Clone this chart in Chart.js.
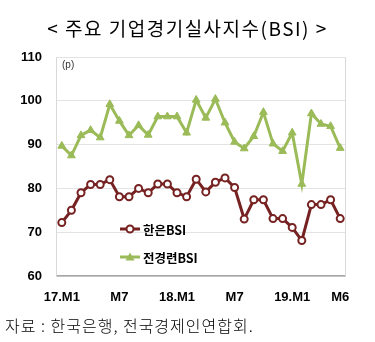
<!DOCTYPE html>
<html>
<head>
<meta charset="utf-8">
<script src="https://cdn.jsdelivr.net/npm/chart.js@4"></script>
<style>
  html, body { margin: 0; padding: 0; background: #fff; }
  .wrap { position: relative; width: 375px; height: 342px; overflow: hidden; }
  .title {
    position: absolute; left: 0; top: 15px; width: 375px; text-align: center;
    font-family: "Noto Sans CJK KR", sans-serif; font-size: 19px; color: #000;
    line-height: 26px; letter-spacing: 1.5px;
  }
  .source {
    position: absolute; left: 5px; top: 313px;
    font-family: "Noto Sans CJK KR", sans-serif; font-size: 16px; font-weight: 300; color: #000;
    line-height: 24px; letter-spacing: 1px;
  }
  .unit {
    position: absolute; left: 62px; top: 59px;
    font-family: "Liberation Sans", Arial, sans-serif; font-size: 10px; color: #333;
  }
  canvas { position: absolute; left: 0; top: 0; }
</style>
</head>
<body>
<div class="wrap">
  <canvas id="chart" width="375" height="342"></canvas>
  <div class="title">&lt; 주요 기업경기실사지수(BSI) &gt;</div>
  <div class="unit">(p)</div>
  <div class="source">자료 : 한국은행, 전국경제인연합회.</div>
</div>
<script>
// 2017.1 ~ 2019.6 monthly
const months = [
  '17.M1', '', '', '', '', '', 'M7', '', '', '', '', '',
  '18.M1', '', '', '', '', '', 'M7', '', '', '', '', '',
  '19.M1', '', '', '', '', 'M6'
];
const bokBsi = [
  72.2, 75, 79, 80.9, 80.9, 82, 78.1, 78.1, 80, 79, 81, 81,
  79, 78.1, 82.1, 79.2, 81.4, 82.4, 80.2, 73, 77.4, 77.4, 73.1, 73.1,
  71.1, 68.1, 76.3, 76.3, 77.4, 73.1
];
const fkiBsi = [
  89.7, 87.5, 92.1, 93.3, 91.6, 99.2, 95.4, 92.1, 94.4, 92.2, 96.4, 96.4,
  96.4, 92.7, 100.2, 96.1, 100.4, 95, 90.6, 89.1, 91.9, 97.4, 90.2, 88.5,
  92.7, 81, 97.1, 94.7, 94.2, 89.2
];
const seriesNames = ['한은BSI', '전경련BSI'];
const yTicks = [60, 70, 80, 90, 100, 110];

const RED = '#772222';
const GREEN = '#9BBB59';

// plot frame + legend inside the plot
const framePlugin = {
  id: 'frame',
  beforeDatasetsDraw(chart) {
    const { ctx, chartArea: a } = chart;
    ctx.save();
    ctx.strokeStyle = '#d9d9d9';
    ctx.lineWidth = 1;
    ctx.beginPath();
    ctx.moveTo(a.right + 0.5, a.top);
    ctx.lineTo(a.right + 0.5, a.bottom);
    ctx.moveTo(a.left - 0.5, a.top);
    ctx.lineTo(a.left - 0.5, a.bottom);
    ctx.stroke();
    ctx.restore();
  },
  afterDatasetsDraw(chart) {
    const { ctx, chartArea: a } = chart;
    ctx.save();
    ctx.font = 'bold 12.5px "Noto Sans CJK KR", sans-serif';
    ctx.textBaseline = 'middle';
    ctx.fillStyle = '#000';
    const x0 = a.left + 63;
    const items = [
      { y: a.top + 172, color: RED, shape: 'circle' },
      { y: a.top + 200, color: GREEN, shape: 'triangle' }
    ];
    items.forEach((it, i) => {
      ctx.strokeStyle = it.color;
      ctx.lineWidth = 3;
      ctx.beginPath();
      ctx.moveTo(x0, it.y);
      ctx.lineTo(x0 + 20, it.y);
      ctx.stroke();
      if (it.shape === 'circle') {
        ctx.beginPath();
        ctx.arc(x0 + 10, it.y, 3.5, 0, Math.PI * 2);
        ctx.fillStyle = '#fff';
        ctx.fill();
        ctx.lineWidth = 2;
        ctx.stroke();
      } else {
        ctx.beginPath();
        ctx.moveTo(x0 + 10, it.y - 4.5);
        ctx.lineTo(x0 + 14.5, it.y + 3.5);
        ctx.lineTo(x0 + 5.5, it.y + 3.5);
        ctx.closePath();
        ctx.fillStyle = it.color;
        ctx.fill();
      }
      ctx.fillStyle = '#000';
      ctx.fillText(seriesNames[i], x0 + 23, it.y + 1);
    });
    ctx.restore();
  }
};

new Chart(document.getElementById('chart'), {
  type: 'line',
  data: {
    labels: months,
    datasets: [
      {
        label: seriesNames[0],
        data: bokBsi,
        borderColor: RED,
        borderWidth: 3,
        pointStyle: 'circle',
        pointRadius: 3.5,
        pointBorderWidth: 2,
        pointBackgroundColor: '#fff',
        pointBorderColor: RED,
        tension: 0
      },
      {
        label: seriesNames[1],
        data: fkiBsi,
        borderColor: GREEN,
        borderWidth: 3,
        pointStyle: 'triangle',
        pointRadius: 4.5,
        pointBorderWidth: 1,
        pointBackgroundColor: GREEN,
        pointBorderColor: GREEN,
        tension: 0
      }
    ]
  },
  options: {
    responsive: false,
    animation: false,
    layout: { padding: { top: 57, right: 30, left: 0, bottom: 0 } },
    plugins: {
      legend: { display: false },
      tooltip: { enabled: false }
    },
    scales: {
      x: {
        offset: true,
        grid: { display: false, drawTicks: false },
        border: { color: '#a6a6a6', width: 1.5 },
        afterFit(scale) { scale.height = 66; },
        ticks: {
          autoSkip: false,
          maxRotation: 0,
          padding: 14,
          color: '#000',
          font: { family: '"Liberation Sans", Arial, sans-serif', size: 13, weight: 'bold' }
        }
      },
      y: {
        min: 60,
        max: 110,
        afterFit(scale) { scale.width = 57; },
        afterBuildTicks(scale) { scale.ticks = yTicks.map(v => ({ value: v })); },
        grid: { color: '#e3e3e3', drawTicks: false },
        border: { display: false },
        ticks: {
          padding: 15,
          color: '#000',
          font: { family: '"Liberation Sans", Arial, sans-serif', size: 13, weight: 'bold' }
        }
      }
    }
  },
  plugins: [framePlugin]
});
</script>
</body>
</html>
